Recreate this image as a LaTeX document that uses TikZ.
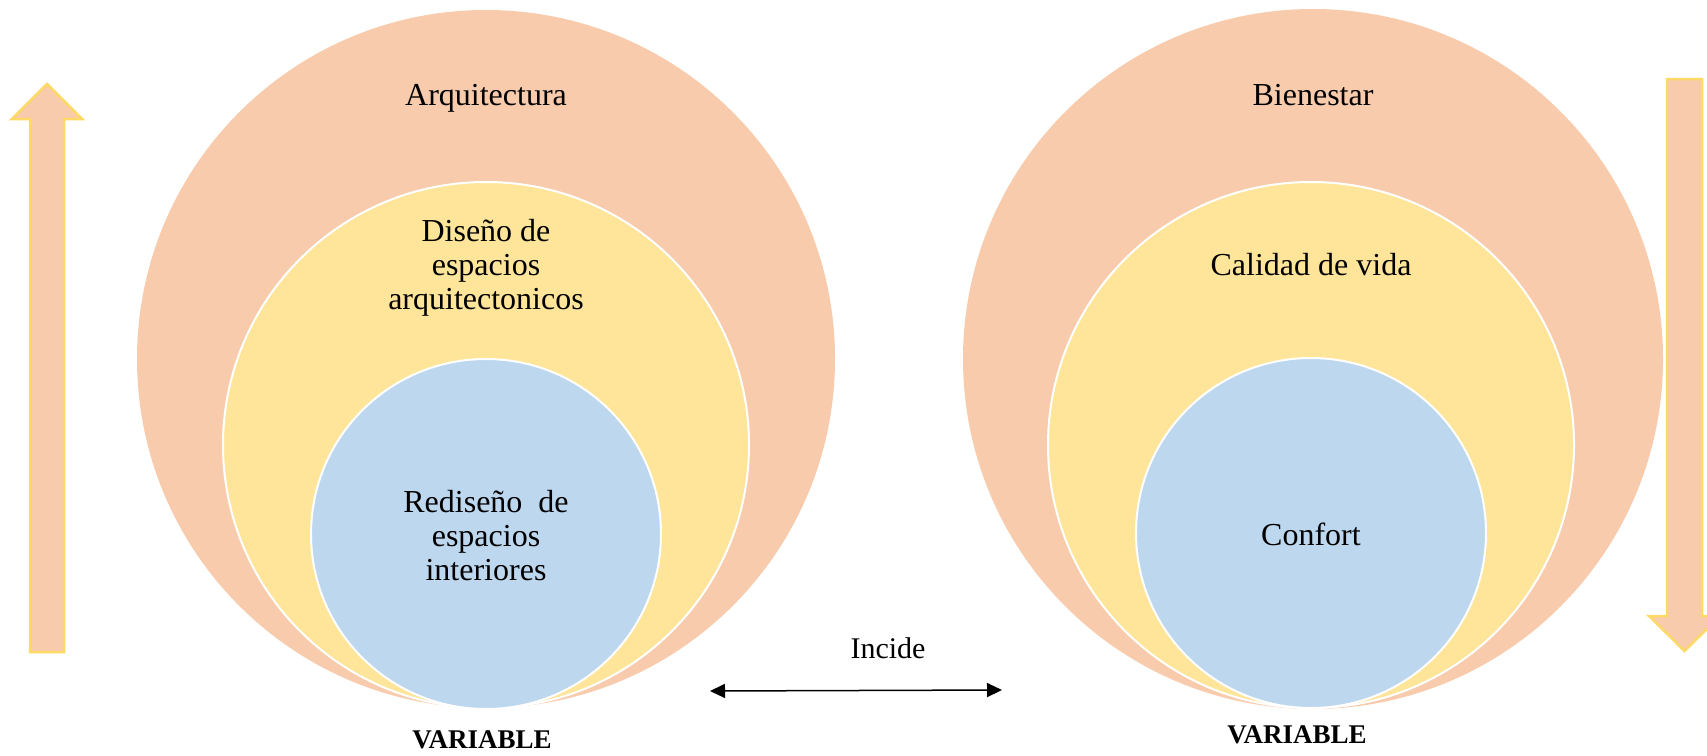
\documentclass[tikz,border=0pt]{standalone}
\usepackage{fontspec}
\setmainfont{Liberation Serif}
\usetikzlibrary{arrows.meta}

\definecolor{peach}{HTML}{F7CBAC}
\definecolor{sand}{HTML}{FFE599}
\definecolor{sky}{HTML}{BDD7EE}
\definecolor{gold}{HTML}{FFD966}

\begin{document}
\begin{tikzpicture}[x=1pt, y=-1pt,
	ring/.style={draw=white, line width=2pt},
	bigarrow/.style={fill=peach, draw=gold, line width=2.5pt, line join=miter},
	lbl/.style={font=\fontsize{32}{34}\selectfont, align=center, inner sep=0pt},
	var/.style={font=\fontsize{27}{30}\selectfont\bfseries, inner sep=0pt}]
	\useasboundingbox (0,0) rectangle (1707,755);
	\clip (0,0) rectangle (1707,755);

	% left variable
	\fill[peach] (486,359) circle[radius=349];
	\filldraw[ring, fill=sand] (486,445) circle[radius=263];
	\filldraw[ring, fill=sky] (486,534) circle[radius=175];

	% right variable
	\fill[peach] (1313,359) circle[radius=350];
	\filldraw[ring, fill=sand] (1311,445) circle[radius=263];
	\filldraw[ring, fill=sky] (1311,533) circle[radius=175];

	% block arrows
	\draw[bigarrow] (47,84) -- (82,119) -- (64,119) -- (64,652) -- (30,652) -- (30,119) -- (12,119) -- cycle;
	\draw[bigarrow] (1667,79) -- (1702,79) -- (1702,616) -- (1720,616) -- (1684.5,651) -- (1649,616) -- (1667,616) -- cycle;

	% labels
	\node[lbl] (arq) at (486,98) {Arquitectura};
	\node[lbl] (dis) at (486,268) {Diseño de\\espacios\\arquitectonicos};
	\node[lbl] (red) at (486,536) {Rediseño\ \ de\\espacios\\interiores};
	\node[lbl] (bie) at (1313,95) {Bienestar};
	\node[lbl] (cal) at (1311,265) {Calidad de vida};
	\node[lbl] (con) at (1311,534) {Confort};

	\node[var] (varL) at (482,740) {VARIABLE};
	\node[var] (varR) at (1297,735) {VARIABLE};

	% incide
	\node[lbl, font=\fontsize{30}{32}\selectfont] (inc) at (888,648) {Incide};
	\coordinate (incL) at (710,691);
	\coordinate (incR) at (1002,690);
	\draw[line width=1.5pt, {Triangle[length=15pt, width=14pt]}-{Triangle[length=15pt, width=14pt]}] (incL) -- (incR);
\end{tikzpicture}
\end{document}
